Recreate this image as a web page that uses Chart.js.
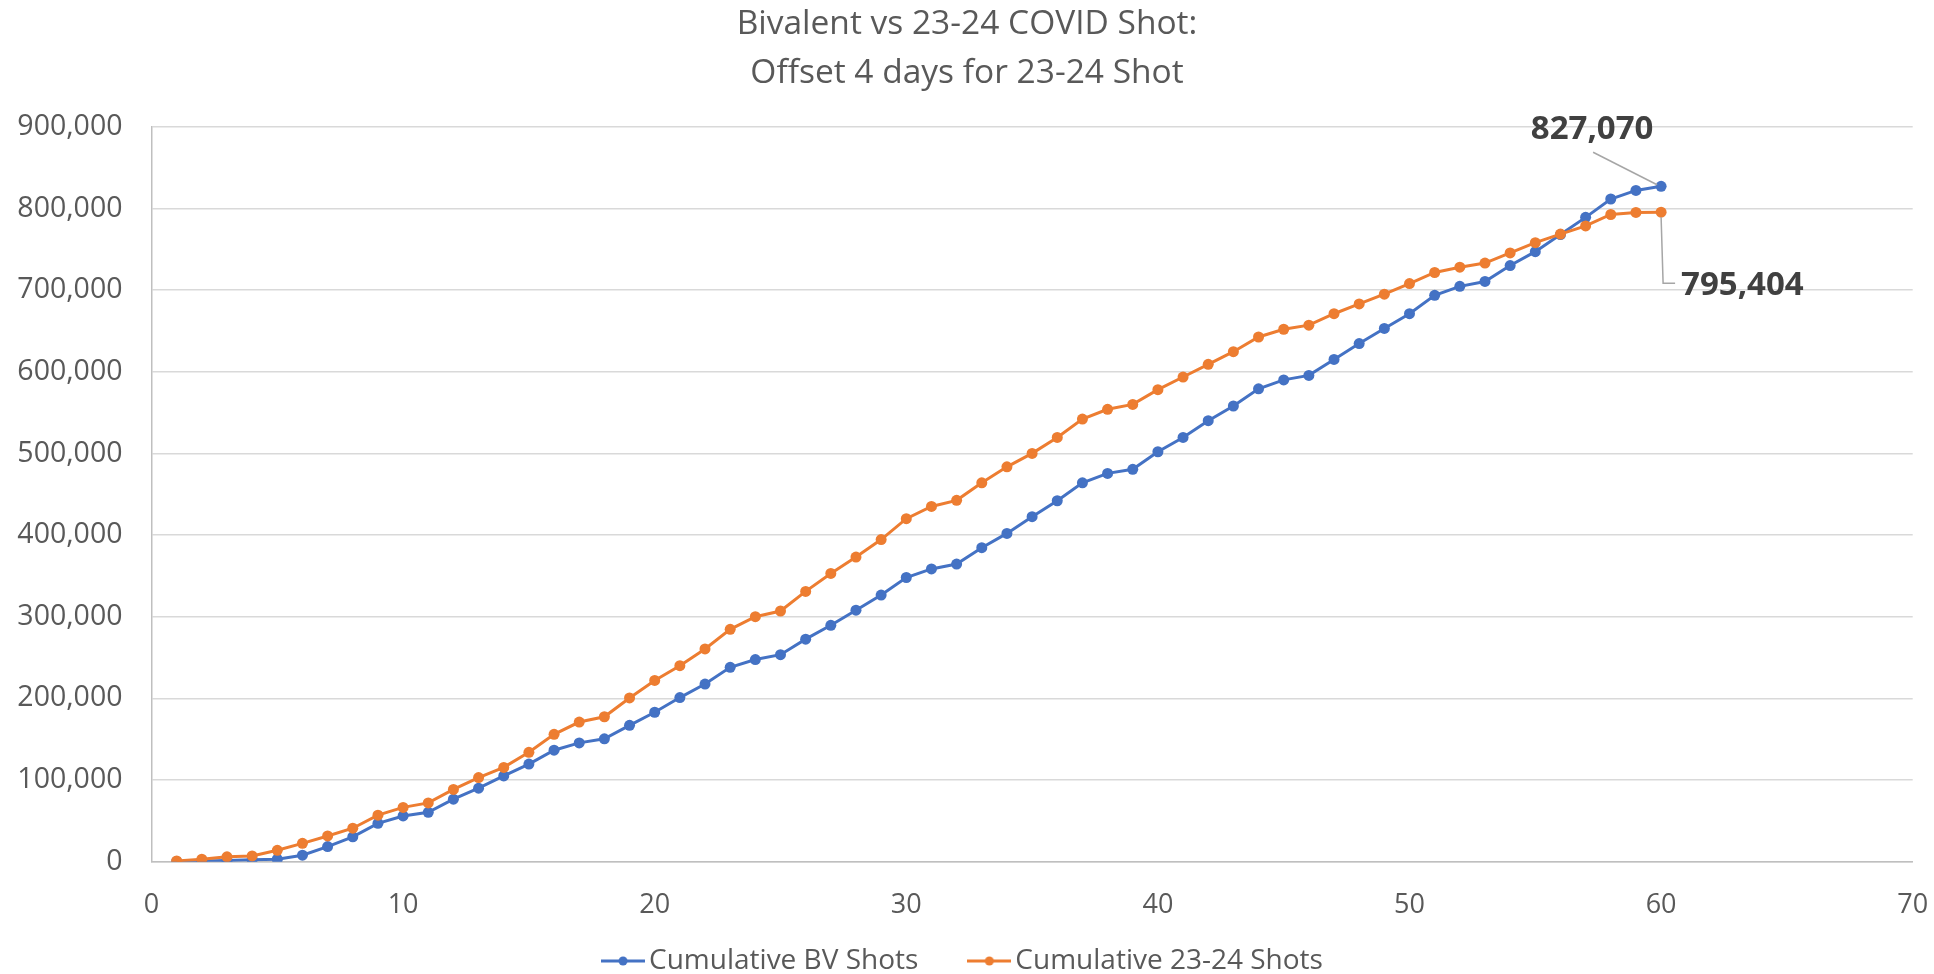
<!DOCTYPE html>
<html>
<head>
<meta charset="utf-8">
<script src="https://cdn.jsdelivr.net/npm/chart.js@4.4.1/dist/chart.umd.min.js"></script>
<style>
html,body{margin:0;padding:0;background:#fff;overflow:hidden}
#wrap{width:1934px;height:974px;position:relative}
</style>
</head>
<body>
<div id="wrap"><canvas id="c"></canvas></div>
<script>
// ---- data ----
const titleLines = ['Bivalent vs 23-24 COVID Shot:', 'Offset 4 days for 23-24 Shot'];
const seriesNames = ['Cumulative BV Shots', 'Cumulative 23-24 Shots'];
const days = [1,2,3,4,5,6,7,8,9,10,11,12,13,14,15,16,17,18,19,20,
              21,22,23,24,25,26,27,28,29,30,31,32,33,34,35,36,37,38,39,40,
              41,42,43,44,45,46,47,48,49,50,51,52,53,54,55,56,57,58,59,60];
const bvShots = [300,800,1500,2500,3000,8000,18500,30500,47000,56000,
                 60500,76500,90000,105000,119500,136500,145500,150500,167000,183000,
                 201000,217500,238000,247500,253500,272500,289500,308000,326500,348000,
                 358500,364500,384500,402000,422500,442000,464000,475500,480500,502000,
                 519500,540000,558000,579000,590000,595500,615000,634500,653000,671000,
                 693500,704500,710500,730000,747000,768000,789000,811500,822000,827070];
const shots2324 = [1000,3000,6000,7000,14000,22500,31500,41000,57000,66500,
                   72000,88500,103000,115500,134000,156000,171000,177500,200500,222000,
                   240000,260500,284500,300000,307000,331000,353000,373000,394500,420000,
                   435000,442500,464000,483500,500000,519500,542000,554000,560000,578000,
                   593500,609000,624500,642500,652000,657000,671000,683000,695000,708000,
                   721500,728000,733000,745500,758000,768500,778500,792500,795000,795404];
const xTickRange = {min: 0, max: 70, step: 10};
const yTickRange = {min: 0, max: 900000, step: 100000};

// ---- styles ----
const BLUE = '#4472C4', ORANGE = '#ED7D31';
const FONT = "'Open Sans', 'Liberation Sans', sans-serif";

function legendIcon(color) {
  const c = document.createElement('canvas');
  c.width = 44; c.height = 12;
  const g = c.getContext('2d');
  g.strokeStyle = color; g.lineWidth = 3;
  g.beginPath(); g.moveTo(0, 6); g.lineTo(44, 6); g.stroke();
  g.fillStyle = color;
  g.beginPath(); g.arc(22, 6, 4.5, 0, Math.PI * 2); g.fill();
  return c;
}
const icons = [legendIcon(BLUE), legendIcon(ORANGE)];

const fmt = v => Number(v).toLocaleString('en-US');

// end-of-series value labels with leader lines
const endLabels = {
  id: 'endLabels',
  afterDatasetsDraw(chart) {
    const ctx = chart.ctx;
    const specs = [
      {ds: 0, align: 'center', tx: -69, ty: -57, leader: [[-68, -34], [-4, -1.5]]},
      {ds: 1, align: 'left', tx: 20, ty: 73, leader: [[0, 5], [2, 71], [14, 71]]}
    ];
    ctx.save();
    specs.forEach(s => {
      const meta = chart.getDatasetMeta(s.ds);
      const data = chart.data.datasets[s.ds].data;
      const el = meta.data[meta.data.length - 1];
      const px = el.x, py = el.y;
      ctx.strokeStyle = '#a6a6a6';
      ctx.lineWidth = 1.5;
      ctx.beginPath();
      s.leader.forEach((p, i) => {
        if (i === 0) ctx.moveTo(px + p[0], py + p[1]); else ctx.lineTo(px + p[0], py + p[1]);
      });
      ctx.stroke();
      ctx.fillStyle = '#404040';
      ctx.font = "bold 33px " + FONT;
      ctx.textAlign = s.align;
      ctx.textBaseline = 'middle';
      ctx.fillText(fmt(data[data.length - 1].y), px + s.tx, py + s.ty);
    });
    ctx.restore();
  }
};

const chart = new Chart(document.getElementById('c'), {
  type: 'line',
  data: {
    datasets: [
      {
        label: seriesNames[0],
        data: days.map((d, i) => ({x: d, y: bvShots[i]})),
        borderColor: BLUE, backgroundColor: BLUE,
        borderWidth: 3, pointRadius: 5.5, pointBorderWidth: 0,
        pointBackgroundColor: BLUE, tension: 0, order: 1
      },
      {
        label: seriesNames[1],
        data: days.map((d, i) => ({x: d, y: shots2324[i]})),
        borderColor: ORANGE, backgroundColor: ORANGE,
        borderWidth: 3, pointRadius: 5.5, pointBorderWidth: 0,
        pointBackgroundColor: ORANGE, tension: 0, order: 0
      }
    ]
  },
  options: {
    responsive: true,
    maintainAspectRatio: false,
    animation: false,
    events: [],
    layout: {padding: {left: 0, right: 0, top: 0, bottom: 0}},
    plugins: {
      tooltip: {enabled: false},
      title: {
        display: true,
        text: titleLines,
        color: '#595959',
        font: {family: FONT, size: 33.5, weight: 'normal', lineHeight: 1.46},
        padding: {top: 0, bottom: 28.9}
      },
      legend: {
        display: true,
        position: 'bottom',
        maxHeight: 86,
        labels: {
          usePointStyle: true,
          pointStyleWidth: 24,
          padding: 59,
          color: '#595959',
          font: {family: FONT, size: 28},
          sort: (a, b) => a.datasetIndex - b.datasetIndex,
          generateLabels(ch) {
            const items = Chart.defaults.plugins.legend.labels.generateLabels(ch);
            items.forEach(it => { it.pointStyle = icons[it.datasetIndex]; });
            return items;
          }
        }
      }
    },
    scales: {
      x: {
        type: 'linear',
        min: xTickRange.min, max: xTickRange.max,
        afterFit(s) {
          s.height = 26.3;
          s.paddingRight = 21.3;
          s._computeLabelArea = () => undefined;
        },
        grid: {display: false, drawTicks: false},
        border: {display: true, color: '#bfbfbf', width: 1.5},
        ticks: {
          stepSize: xTickRange.step, padding: 27,
          color: '#595959', font: {family: FONT, size: 27}
        }
      },
      y: {
        type: 'linear',
        min: yTickRange.min, max: yTickRange.max,
        afterFit(s) { s.width = 151.5; },
        grid: {color: '#d9d9d9', lineWidth: 1.5, drawTicks: false},
        border: {display: true, color: '#bfbfbf', width: 1.5},
        ticks: {
          stepSize: yTickRange.step, padding: 29,
          color: '#595959', font: {family: FONT, size: 28.5},
          callback: v => fmt(v)
        }
      }
    }
  },
  plugins: [endLabels]
});
</script>
</body>
</html>
